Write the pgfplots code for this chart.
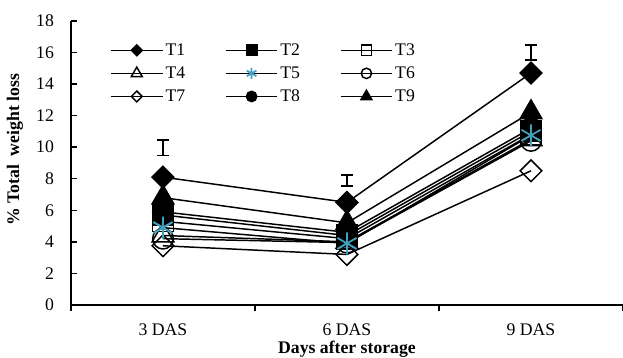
\documentclass[border=0pt]{standalone}
\usepackage{pgfplots}
\pgfplotsset{compat=1.18}
\usepackage{pgfplotstable}
\usepackage{fontspec}
\setmainfont{Liberation Serif}
\definecolor{ast}{RGB}{64,160,190}

\pgfplotstableread{
x T1 T2 T3 T4 T5 T6 T7 T8 T9
1 8.1 5.7 5.3 4.4 4.9 4.2 3.75 5.9 6.8
2 6.5 4.4 4.2 4.0 3.9 3.95 3.2 4.6 5.2
3 14.7 11.0 10.8 10.5 10.75 10.4 8.5 11.2 12.2
}\data

\pgfplotstableread{
x y e
1 9.96 0.48
2 7.9 0.35
3 16.0 0.48
}\err

\begin{document}
\begin{tikzpicture}[font=\fontsize{12}{14.4}\selectfont]
\path[use as bounding box] (-48.1pt,-35.9pt) rectangle (374.2pt,206.7pt);
\begin{axis}[
 at={(0pt,0pt)}, anchor=south west,
 scale only axis, width=374.2pt, height=192.5pt,
 xmin=0.5, xmax=3.5, ymin=0, ymax=18,
 axis lines=left, axis line style={-, line width=1pt},
 ytick={0,2,...,18},
 xtick={0.5,1.5,2.5,3.5}, xticklabels={},
 extra x ticks={1,2,3}, extra x tick labels={3 DAS,6 DAS,9 DAS},
 extra x tick style={major tick length=0pt},
 tick align=outside, major tick length=4pt,
 tick style={line width=1pt, black},
 ytick style={xshift=4pt},
 yticklabel style={xshift=-4pt},
 xticklabel style={yshift=-9pt},
 /pgf/number format/assume math mode=true,
 xlabel={\bfseries Days after storage},
 ylabel={\bfseries \% Total\ \ weight loss},
 xlabel style={at={(axis description cs:0.5,0)}, anchor=center, yshift=-30.2pt},
 ylabel style={at={(axis description cs:-0.1016,0.546)}, anchor=center},
 legend columns=3,
 legend cell align=left,
 legend style={draw=none, fill=none, at={(0.0706,0.93)}, anchor=north west,
   inner sep=0pt, row sep=3.2pt, column sep=0pt, nodes={inner sep=1.5pt},
   /tikz/every even column/.append style={column sep=25.5pt},
   font=\fontsize{12}{14.4}\selectfont},
 legend image code/.code={\draw[mark repeat=2,mark phase=2,#1] plot coordinates {(0pt,0pt) (17.5pt,0pt) (35pt,0pt)};},
 legend image post style={/tikz/every mark/.append style={scale=0.5}},
 every axis plot/.append style={line width=1pt, black},
]
\addplot[mark=square*, mark size=5.2pt, mark options={rotate=45, fill=black}] table[x=x,y=T1]{\data};
\addplot[mark=square*, mark size=7pt, mark options={fill=black}] table[x=x,y=T2]{\data};
\addplot[mark=square, mark size=7pt] table[x=x,y=T3]{\data};
\addplot[mark=triangle, mark size=8.5pt] table[x=x,y=T4]{\data};
\addplot[mark=asterisk, mark size=7.5pt, mark options={draw=ast, line width=1.2pt}] table[x=x,y=T5]{\data};
\addplot[mark=o, mark size=7pt] table[x=x,y=T6]{\data};
\addplot[mark=square, mark size=5.2pt, mark options={rotate=45}] table[x=x,y=T7]{\data};
\addplot[mark=*, mark size=7pt, mark options={fill=black}] table[x=x,y=T8]{\data};
\addplot[mark=triangle*, mark size=8.5pt, mark options={fill=black}] table[x=x,y=T9]{\data};
\addplot[forget plot, only marks, mark=asterisk, mark size=7.5pt, mark options={draw=ast, line width=1.2pt}] table[x=x,y=T5]{\data};
\addplot[forget plot, draw=none, mark=none, error bars/.cd, y dir=both, y explicit,
  error bar style={line width=1pt, draw=black, solid},
  error mark options={rotate=90, mark size=4pt, line width=1pt, draw=black}]
  table[x=x, y=y, y error=e]{\err};
\legend{T1,T2,T3,T4,T5,T6,T7,T8,T9}
\end{axis}
\end{tikzpicture}
\end{document}
